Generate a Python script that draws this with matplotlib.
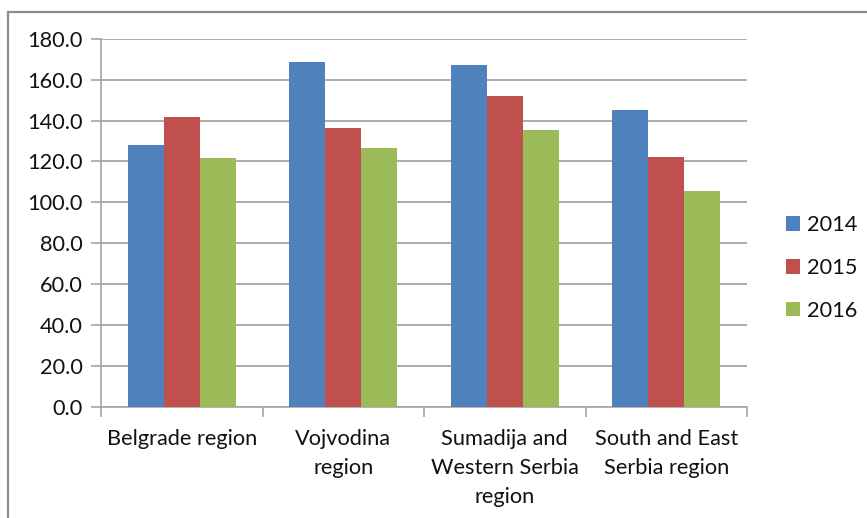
import numpy as np
import matplotlib
matplotlib.use("Agg")
import matplotlib.pyplot as plt
from matplotlib.patches import Rectangle

# data
regions = ["Belgrade region", "Vojvodina\nregion",
           "Sumadija and\nWestern Serbia\nregion", "South and East\nSerbia region"]
years = ["2014", "2015", "2016"]
v2014 = [128.0, 168.5, 167.0, 145.0]
v2015 = [141.7, 136.2, 152.2, 122.4]
v2016 = [121.8, 126.8, 135.6, 105.5]
colors = ["#4F81BD", "#C0504D", "#9BBB59"]

plt.rcParams['font.family'] = ['Lato', 'DejaVu Sans']
FS = 15.7

W, H = 867, 518
fig = plt.figure(figsize=(W / 100, H / 100), dpi=100)
ax = fig.add_axes([101 / W, 1 - 407 / H, (747 - 101) / W, (407 - 38.7) / H])

x = np.arange(len(regions))
bw = 1 / 4.5
for i, (vals, yr) in enumerate(zip([v2014, v2015, v2016], years)):
    ax.bar(x + (i - 1) * bw, vals, bw, color=colors[i], label=yr, zorder=3)

ax.set_xlim(-0.5, len(regions) - 0.5)
ax.set_ylim(0, 180)
ax.set_yticks(np.arange(0, 181, 20))
ax.set_yticklabels([f"{t:.1f}" for t in np.arange(0, 181, 20)])
ax.yaxis.grid(True, color="#A6A6A6", linewidth=1.3, zorder=0)

# category labels centered, ticks on boundaries
ax.set_xticks(x)
ax.set_xticklabels(regions, linespacing=1.56, va="top")
ax.tick_params(axis="x", length=0, pad=16)
ax.set_xticks(np.arange(-0.5, len(regions)), minor=True)
ax.tick_params(axis="x", which="minor", length=7, color="#A6A6A6", width=1.2)
ax.tick_params(axis="y", length=7, color="#A6A6A6", width=1.2, pad=6)
ax.tick_params(labelsize=FS, labelcolor="#111111")

for s in ["top", "right"]:
    ax.spines[s].set_visible(False)
for s in ["left", "bottom"]:
    ax.spines[s].set_color("#A6A6A6")
    ax.spines[s].set_linewidth(1.2)

leg = fig.legend(loc="center left", bbox_to_anchor=(786 / W, 1 - 268 / H),
                 frameon=False, fontsize=FS, handlelength=0.65, handleheight=0.65,
                 handletextpad=0.3, labelspacing=1.04, borderpad=0, borderaxespad=0)
for t in leg.get_texts():
    t.set_color("#111111")

# outer chart border (partly cropped in the reference)
fig.patches.append(Rectangle((8 / W, -0.1), 1.2, (1 - 12 / H) + 0.1,
                             transform=fig.transFigure, fill=False,
                             edgecolor="#8C8C8C", linewidth=1.6))

fig.savefig("out.png", dpi=100)
